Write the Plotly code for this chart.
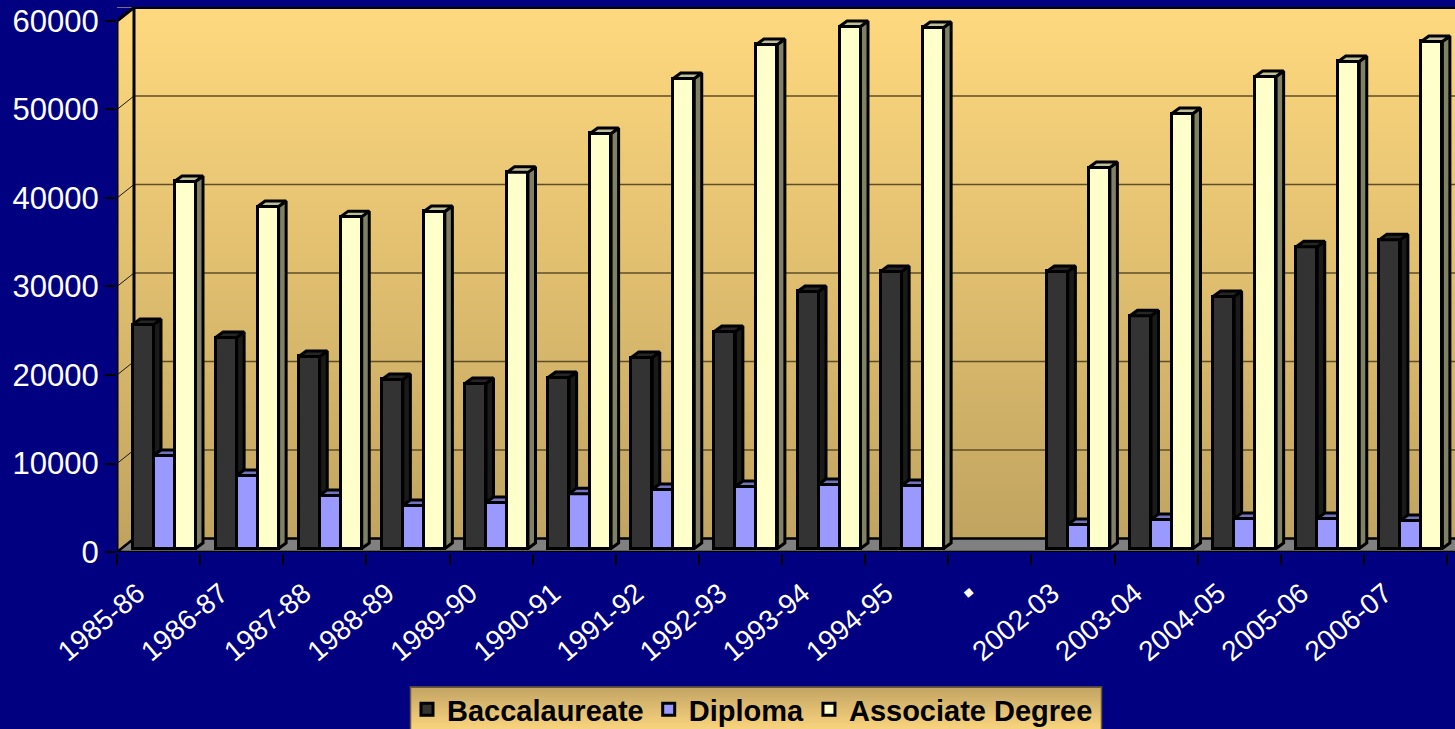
import plotly.graph_objects as go

categories = ["1985-86","1986-87","1987-88","1988-89","1989-90","1990-91","1991-92","1992-93",
              "1993-94","1994-95","▪","2002-03","2003-04","2004-05","2005-06","2006-07"]
baccalaureate = [25300,23840,21700,19100,18640,19320,21580,24520,29040,31300,None,31300,26300,28470,34100,34900]
diploma = [10500,8250,6000,4860,5200,6200,6670,7000,7230,7120,None,2700,3280,3390,3390,3160]
associate = [41470,38640,37500,38080,42500,46900,53100,56950,58980,58870,None,43050,49150,53330,55030,57290]
y_ticks = [0,10000,20000,30000,40000,50000,60000]

W, H = 1455, 729
L, R_EDGE, TOP, BOT = 117, 1455, 7, 552.5
CAT_PX = 83.125
KY = 531.5 / 60000
x_end = (R_EDGE - L) / CAT_PX
y_end = (BOT - TOP) / KY
NAVY = "#000080"

wall_dx, wall_dy = 17 / CAT_PX, 13.5 / KY
bar_dx, bar_dy = 7.5 / CAT_PX, 5.5 / KY
bar_base = 3.5 / KY
bar_w = 21 / CAT_PX
bar_start = 15.5 / CAT_PX
n = len(categories)

def mix(a, b, t):
    return "rgb(%d,%d,%d)" % tuple(round(a[i] + (b[i] - a[i]) * t) for i in range(3))

shapes = []
STRIPES = 109
for s in range(STRIPES):
    y0 = y_end * s / STRIPES
    shapes.append(dict(type="rect", xref="x", yref="y", x0=0, x1=x_end, y0=y0, y1=y_end,
                       fillcolor=mix((191, 163, 95), (255, 217, 127), s / STRIPES),
                       line=dict(width=0), layer="below"))

px = lambda v: (v - L) / (R_EDGE - L)
py = lambda v: (BOT - v) / (BOT - TOP)
LEG_T, LEG_B = 688, 729
for s in range(20):
    y0 = LEG_T + (LEG_B - LEG_T) * s / 20
    shapes.append(dict(type="rect", xref="paper", yref="paper", x0=px(411), x1=px(1101), y0=py(LEG_B + 6), y1=py(y0),
                       fillcolor=mix((196, 165, 100), (247, 210, 125), s / 19), line=dict(width=0), layer="below"))
shapes.append(dict(type="rect", xref="paper", yref="paper", x0=px(410.5), x1=px(1101.5), y0=py(735), y1=py(687.5),
                   fillcolor="rgba(0,0,0,0)", line=dict(width=1.5, color="#6b5a2f"), layer="below"))

fig = go.Figure()

def deco(x, y, fill=None, lw=0, color="black", z=0, clip=False, mode="lines"):
    fig.add_trace(go.Scatter(x=x, y=y, mode=mode, fill="toself" if fill else None, fillcolor=fill,
                             line=dict(color=color, width=lw), hoverinfo="skip", showlegend=False,
                             cliponaxis=clip, zorder=z))

# corner above the left wall
deco([0, wall_dx, 0, 0], [60000, 60000 + wall_dy, 60000 + wall_dy, 60000], fill=NAVY, z=0, clip=True)
# floor
deco([0, wall_dx, x_end + 1, x_end + 1, 0], [0, wall_dy, wall_dy, 0, 0], fill="#808080", lw=2.5, z=0)
# grid on the back wall and left wall
gx, gy, dx, dy = [], [], [], []
for v in y_ticks[1:-1]:
    gx += [wall_dx, x_end, None]
    gy += [v + wall_dy, v + wall_dy, None]
for v in y_ticks[1:-1]:
    dx += [0, wall_dx, None]
    dy += [v, v + wall_dy, None]
deco(gx, gy, lw=1.5, color="#5e4e28", clip=True)
deco(dx, dy, lw=1, color="#1a1a10", clip=True)
# wall outlines
deco([0, 0, wall_dx, x_end + 1], [0, 60000, 60000 + wall_dy, 60000 + wall_dy], lw=3)
deco([wall_dx, wall_dx], [wall_dy, 60000 + wall_dy], lw=3)
deco([0, wall_dx], [0, wall_dy], lw=1.5)

series = [
    ("Baccalaureate", baccalaureate, 0, "#333333", "#262626", "#1a1a1a", 1),
    ("Diploma", diploma, 1, "#9999FF", "#7373BF", "#4d4d80", 2),
    ("Associate Degree", associate, 2, "#FFFFCC", "#BFBF99", "#808066", 3),
]
for name, vals, slot, front, top, side, z in series:
    off = bar_start + slot * bar_w
    fig.add_trace(go.Bar(x=list(range(n)), y=vals, base=bar_base, offset=off, width=bar_w, name=name,
                         marker=dict(color=front, line=dict(color="black", width=3)),
                         zorder=z, hovertemplate=name + ": %{y}<extra></extra>"))
    tx, ty, sx, sy = [], [], [], []
    for i, v in enumerate(vals):
        if v is None:
            continue
        a, b, yb, yt = i + off, i + off + bar_w, bar_base, bar_base + v
        tx += [a, a + bar_dx, b + bar_dx, b, a, None]
        ty += [yt, yt + bar_dy, yt + bar_dy, yt, yt, None]
        sx += [b, b + bar_dx, b + bar_dx, b, b, None]
        sy += [yb, yb + bar_dy, yt + bar_dy, yt, yb, None]
    deco(sx, sy, fill=side, lw=3, z=z)
    deco(tx, ty, fill=top, lw=3, z=z)

fig.update_layout(
    width=W, height=H, autosize=False,
    margin=dict(l=L, r=0, t=TOP, b=H - BOT, pad=0),
    paper_bgcolor=NAVY, plot_bgcolor=NAVY, barmode="overlay", bargap=0,
    font=dict(family="Liberation Sans, Arial, sans-serif", color="white", size=31),
    shapes=shapes,
    xaxis=dict(range=[0, x_end], tickmode="array", tickvals=[i + 0.25 for i in range(n)], ticktext=categories,
               tickangle=-40, ticks="", showgrid=False, zeroline=False, showline=True, linecolor="black", linewidth=2,
               ticklabelstandoff=12, tickfont=dict(size=28, color="white"),
               minor=dict(tick0=0, dtick=1, ticks="outside", ticklen=11, tickwidth=1.5, tickcolor="black", showgrid=False)),
    yaxis=dict(range=[0, y_end], tickmode="array", tickvals=y_ticks, ticks="outside", ticklen=11, tickwidth=1.5,
               tickformat="d", tickcolor="black", showgrid=False, zeroline=False, showline=False,
               tickfont=dict(size=31, color="white")),
    legend=dict(orientation="h", xref="container", yref="container", x=407 / W, xanchor="left",
                y=(H - 684) / H, yanchor="top", bgcolor="rgba(0,0,0,0)",
                font=dict(size=29, color="black", weight=700), traceorder="normal"),
)
fig.write_html("out.html", config=dict(displayModeBar=False),
               post_script="document.body.style.margin='0';document.body.style.overflow='hidden';")
